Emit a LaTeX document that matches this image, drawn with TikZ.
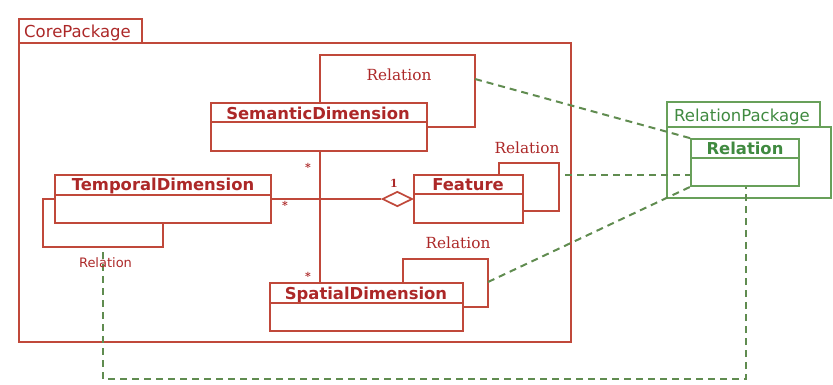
\documentclass[tikz,border=0pt]{standalone}
\usepackage{fontspec}
\setmainfont{DejaVu Sans}
\newfontfamily\relserif{DejaVu Serif}
\usetikzlibrary{arrows.meta,shapes.geometric}
\definecolor{umlred}{RGB}{192,72,58}
\definecolor{umltext}{RGB}{172,40,40}
\definecolor{umlgreen}{RGB}{104,160,90}
\definecolor{umlgtext}{RGB}{64,138,64}
\definecolor{umlgdash}{RGB}{96,140,80}
\begin{document}
\begin{tikzpicture}[x=1pt,y=-1pt,
  redline/.style={draw=umlred, line width=1.7pt},
  greenline/.style={draw=umlgreen, line width=1.7pt},
  gdash/.style={draw=umlgdash, line width=2pt, dash pattern=on 7pt off 5pt},
  cls/.style={redline, rectangle, inner sep=0pt},
  gcls/.style={greenline, rectangle, inner sep=0pt},
  aggr/.style={redline, diamond, inner sep=0pt, minimum width=30pt, minimum height=15pt, fill=white},
  title/.style={text=umltext, font=\fontsize{16.4}{18}\selectfont\bfseries, inner sep=0pt, anchor=base},
  gtitle/.style={text=umlgtext, font=\fontsize{16.4}{18}\selectfont\bfseries, inner sep=0pt, anchor=base},
  pkgname/.style={text=umltext, font=\fontsize{16.5}{18}\selectfont, inner sep=0pt, anchor=base west},
  gpkgname/.style={text=umlgtext, font=\fontsize{16.5}{18}\selectfont, inner sep=0pt, anchor=base west},
  looplbl/.style={text=umltext, font=\fontsize{15.3}{17}\selectfont\relserif, inner sep=0pt, anchor=base},
  sanslbl/.style={text=umltext, font=\fontsize{13}{15}\selectfont, inner sep=0pt, anchor=base},
  mult/.style={text=umltext, font=\fontsize{11}{12}\selectfont\relserif\bfseries, inner sep=0pt},
]
\useasboundingbox (0,0) rectangle (833,384);

% ---------- CorePackage ----------
\node[cls, minimum width=123pt, minimum height=24pt] (coretab) at (80.5,31) {};
\node[cls, minimum width=552pt, minimum height=299pt] (core) at (295,192.5) {};
\node[pkgname] (corename) at (24,37) {CorePackage};

% ---------- RelationPackage ----------
\node[gcls, minimum width=153pt, minimum height=25pt] (reltab) at (743.5,114.5) {};
\node[gcls, minimum width=164pt, minimum height=71pt] (relpkg) at (749,162.5) {};
\node[gpkgname] (relpkgname) at (674,121) {RelationPackage};

% ---------- classes ----------
\node[cls, minimum width=216pt, minimum height=48pt] (sem) at (319,127) {};
\node[title] (semT) at (318,119) {SemanticDimension};
\draw[redline] ([yshift=-20pt]sem.north west) -- ([yshift=-20pt]sem.north east);

\node[cls, minimum width=216pt, minimum height=48pt] (tmp) at (163,199) {};
\node[title] (tmpT) at (163,190) {TemporalDimension};
\draw[redline] ([yshift=-21pt]tmp.north west) -- ([yshift=-21pt]tmp.north east);

\node[cls, minimum width=109pt, minimum height=48pt] (feat) at (468.5,199) {};
\node[title] (featT) at (468,190) {Feature};
\draw[redline] ([yshift=-20pt]feat.north west) -- ([yshift=-20pt]feat.north east);

\node[cls, minimum width=193pt, minimum height=48pt] (spa) at (366.5,307) {};
\node[title] (spaT) at (366,299) {SpatialDimension};
\draw[redline] ([yshift=-21pt]spa.north west) -- ([yshift=-21pt]spa.north east);

\node[gcls, minimum width=108pt, minimum height=47pt] (rel) at (745,162.5) {};
\node[gtitle] (relT) at (745,154) {Relation};
\draw[greenline] ([yshift=-20pt]rel.north west) -- ([yshift=-20pt]rel.north east);

% ---------- self-association loops ----------
\coordinate (semA) at (320,55);
\coordinate (semB) at (475,127);
\draw[redline] (sem.north -| semA) -- (semA) -| (semB) -- (sem.east |- semB);
\node[looplbl] (semL) at (399,80) {Relation};

\coordinate (featA) at (499,163);
\coordinate (featB) at (559,211);
\draw[redline] (feat.north -| featA) -- (featA) -| (featB) -- (feat.east |- featB);
\node[looplbl] (featL) at (527,153) {Relation};

\coordinate (spaA) at (403,259);
\coordinate (spaB) at (488,307);
\draw[redline] (spa.north -| spaA) -- (spaA) -| (spaB) -- (spa.east |- spaB);
\node[looplbl] (spaL) at (458,248) {Relation};

\coordinate (tmpA) at (43,199);
\coordinate (tmpB) at (163,247);
\draw[redline] (tmp.west |- tmpA) -- (tmpA) |- (tmpB) -- (tmp.south -| tmpB);

% ---------- associations ----------
\coordinate (vx) at (320,0);
\draw[redline] (sem.south -| vx) -- (spa.north -| vx);
\node[aggr, anchor=east] (agg) at (feat.west) {};
\draw[redline] (tmp.east) -- (agg.west);
\node[mult] (m1) at (394,183) {1};
\node[mult] (m2) at (285,205) {*};
\node[mult] (m3) at (308,167) {*};
\node[mult] (m4) at (308,276) {*};

% ---------- green dashed dependencies ----------
\coordinate (g1) at (475,79);
\draw[gdash] (g1) -- (rel.north west);
\coordinate (g2) at (565,175);
\draw[gdash] (g2) -- (rel.west |- g2);
\coordinate (g3) at (488,282);
\draw[gdash] (g3) -- (rel.south west);
\coordinate (g4) at (103,252);
\coordinate (g5) at (746,379);
\draw[gdash] (g4) |- (g5) -- (rel.south -| g5);

\node[sanslbl] (tmpL) at (105.5,267) {Relation};
\end{tikzpicture}
\end{document}
